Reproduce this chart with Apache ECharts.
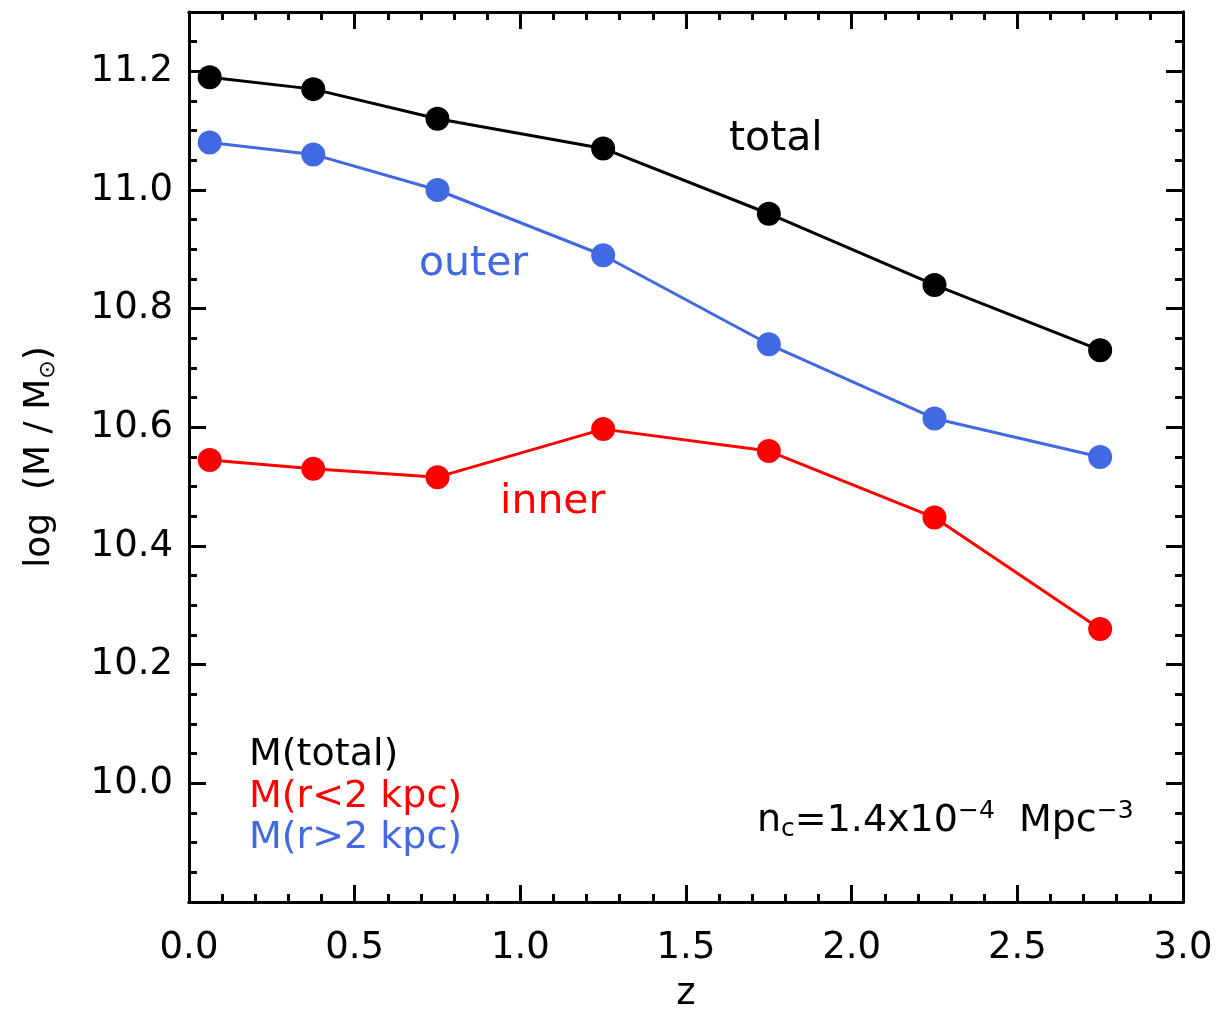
<!DOCTYPE html>
<html>
<head>
<meta charset="utf-8">
<script src="https://cdn.jsdelivr.net/npm/echarts@6/dist/echarts.min.js"></script>
<style>
  html, body { margin: 0; padding: 0; background: #fff; }
  #chart { width: 1220px; height: 1018px; }
</style>
</head>
<body>
<div id="chart"></div>
<script>
// Redshift bin centres
const zValues = [0.0625, 0.375, 0.75, 1.25, 1.75, 2.25, 2.75];
// log stellar mass per component
const massTotal = [11.19, 11.17, 11.12, 11.07, 10.96, 10.84, 10.73];
const massOuter = [11.08, 11.06, 11.00, 10.89, 10.74, 10.615, 10.55];
const massInner = [10.545, 10.53, 10.516, 10.597, 10.56, 10.448, 10.26];

const xTickLabels = ['0.0', '0.5', '1.0', '1.5', '2.0', '2.5', '3.0'];
const yTickLabels = ['10.0', '10.2', '10.4', '10.6', '10.8', '11.0', '11.2'];

const COLOR_TOTAL = '#000000';
const COLOR_INNER = '#ff0000';
const COLOR_OUTER = '#4169e1';
const FONT = '"DejaVu Sans", sans-serif';

function pairs(xs, ys) { return xs.map((x, i) => [x, ys[i]]); }

function findLabel(list, v) {
  for (const s of list) {
    if (Math.abs(parseFloat(s) - v) < 1e-6) return s;
  }
  return '';
}

const lineStyleAxis = { color: '#000', width: 3 };

function xAxisDef(pos, interval, tickLen, showLabels, name) {
  return {
    type: 'value', position: pos, min: 0, max: 3, interval: interval,
    axisLine: { show: true, onZero: false, lineStyle: lineStyleAxis },
    axisTick: { show: true, inside: true, length: tickLen, lineStyle: { color: '#000', width: 3 } },
    axisLabel: showLabels ? {
      show: true, margin: 28, color: '#000', fontFamily: FONT, fontSize: 37,
      formatter: v => findLabel(xTickLabels, v)
    } : { show: false },
    splitLine: { show: false },
    name: name || '', nameLocation: 'middle', nameGap: 74,
    nameTextStyle: { color: '#000', fontFamily: FONT, fontSize: 37 }
  };
}

function yAxisDef(pos, interval, tickLen, showLabels, withName) {
  const ax = {
    type: 'value', position: pos, min: 9.8, max: 11.3, interval: interval,
    axisLine: { show: true, onZero: false, lineStyle: lineStyleAxis },
    axisTick: { show: true, inside: true, length: tickLen, lineStyle: { color: '#000', width: 3 } },
    axisLabel: showLabels ? {
      show: true, margin: 16, color: '#000', fontFamily: FONT, fontSize: 37,
      formatter: v => findLabel(yTickLabels, v)
    } : { show: false },
    splitLine: { show: false }
  };
  if (withName) {
    ax.name = '{a|log  (M / M}{s|⊙}{a|)}';
    ax.nameLocation = 'middle';
    ax.nameGap = 130;
    ax.nameRotate = 90;
    ax.nameTextStyle = {
      rich: {
        a: { color: '#000', fontFamily: FONT, fontSize: 36 },
        s: { color: '#000', fontFamily: FONT, fontSize: 22, verticalAlign: 'bottom', padding: [16, 0, 0, 0] }
      }
    };
  }
  return ax;
}

function seriesDef(name, data, color) {
  return {
    name: name, type: 'line', data: data,
    xAxisIndex: 0, yAxisIndex: 0,
    symbol: 'circle', symbolSize: 24,
    lineStyle: { color: color, width: 3 },
    itemStyle: { color: color },
    z: 5
  };
}

const chart = echarts.init(document.getElementById('chart'), null, { renderer: 'canvas' });

const textStyle = (txt, x, y, color, size) => ({
  type: 'text', left: x, top: y,
  style: { text: txt, fill: color, font: `${size}px ${FONT}` }
});

chart.setOption({
  animation: false,
  backgroundColor: '#fff',
  grid: { left: 189, right: 37, top: 12, bottom: 115, containLabel: false },
  xAxis: [
    xAxisDef('bottom', 0.1, 8, false),
    xAxisDef('bottom', 0.5, 17, true, 'z'),
    xAxisDef('top', 0.1, 8, false),
    xAxisDef('top', 0.5, 17, false)
  ],
  yAxis: [
    yAxisDef('left', 0.05, 8, false, false),
    yAxisDef('left', 0.2, 17, true, true),
    yAxisDef('right', 0.05, 8, false, false),
    yAxisDef('right', 0.2, 17, false, false)
  ],
  series: [
    seriesDef('M(total)', pairs(zValues, massTotal), COLOR_TOTAL),
    seriesDef('M(r>2 kpc)', pairs(zValues, massOuter), COLOR_OUTER),
    seriesDef('M(r<2 kpc)', pairs(zValues, massInner), COLOR_INNER)
  ],
  graphic: [
    textStyle('total', 729, 119, COLOR_TOTAL, 41),
    textStyle('outer', 419, 244, COLOR_OUTER, 41),
    textStyle('inner', 500, 482, COLOR_INNER, 41),
    textStyle('M(total)', 249, 736, COLOR_TOTAL, 38),
    textStyle('M(r<2 kpc)', 249, 778, COLOR_INNER, 38),
    textStyle('M(r>2 kpc)', 249, 819, COLOR_OUTER, 38),
    {
      type: 'text', left: 757, top: 799,
      style: {
        text: '{a|n}{sub|c}{a|=1.4x10}{sup|−4}{a|  Mpc}{sup|−3}',
        rich: {
          a: { fill: '#000', fontFamily: FONT, fontSize: 38 },
          sub: { fill: '#000', fontFamily: FONT, fontSize: 25, padding: [16, 0, 0, 0] },
          sup: { fill: '#000', fontFamily: FONT, fontSize: 25, padding: [0, 0, 20, 0] }
        }
      }
    }
  ]
});
</script>
</body>
</html>
